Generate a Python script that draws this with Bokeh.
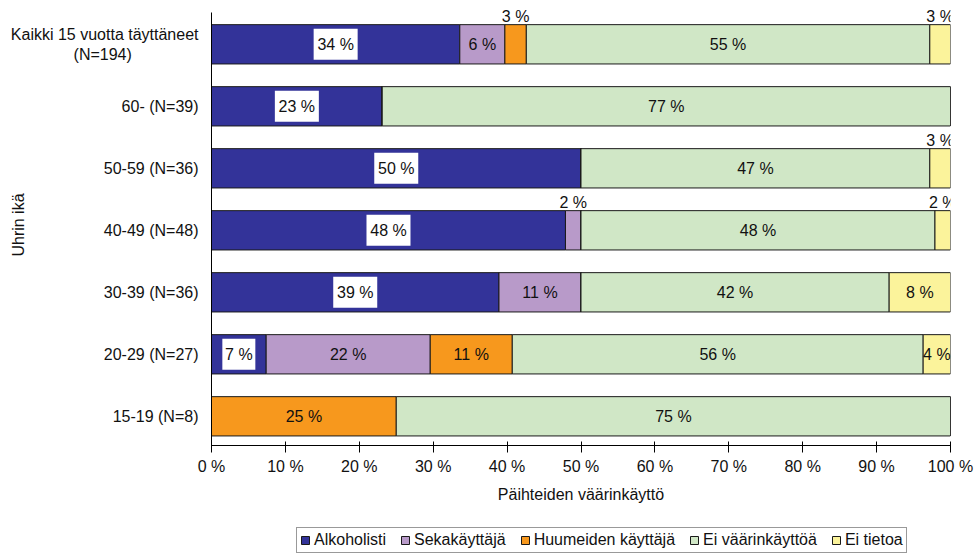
from bokeh.plotting import figure
from bokeh.layouts import column
from bokeh.models import (ColumnDataSource, Range1d, LabelSet, Legend, LegendItem,
                          FixedTicker)
from bokeh.core.properties import value
from bokeh.embed import file_html
from bokeh.resources import INLINE

# ---- data (percent of victims) ----
groups = ["Kaikki 15 vuotta täyttäneet\n(N=194)", "60- (N=39)", "50-59 (N=36)",
          "40-49 (N=48)", "30-39 (N=36)", "20-29 (N=27)", "15-19 (N=8)"]
series_names = ["Alkoholisti", "Sekakäyttäjä", "Huumeiden käyttäjä",
                "Ei väärinkäyttöä", "Ei tietoa"]
alkoholisti = [33.6, 23.1, 50.0, 47.9, 38.9, 7.4, 0.0]
sekakayttaja = [6.1, 0.0, 0.0, 2.1, 11.1, 22.2, 0.0]
huumeiden_kayttaja = [2.9, 0.0, 0.0, 0.0, 0.0, 11.1, 25.0]
ei_vaarinkayttoa = [54.6, 76.9, 47.2, 47.9, 41.7, 55.6, 75.0]
ei_tietoa = [2.8, 0.0, 2.8, 2.1, 8.3, 3.7, 0.0]
x_ticks = [0, 10, 20, 30, 40, 50, 60, 70, 80, 90, 100]
x_tick_labels = ["0 %", "10 %", "20 %", "30 %", "40 %", "50 %", "60 %", "70 %",
                 "80 %", "90 %", "100 %"]

colors = ["#333399", "#b89ac9", "#f7981d", "#d0e7c6", "#fbf39b"]
FONT = "Liberation Sans"
FS = "16px"
TXT = "#111111"

n = len(groups)
ypos = [n - 1 - j for j in range(n)]          # first group at the top

keys = ["alk", "seka", "huume", "ei", "tieto"]
values = [alkoholisti, sekakayttaja, huumeiden_kayttaja, ei_vaarinkayttoa, ei_tietoa]
src = ColumnDataSource(dict(y=ypos, **{k: v for k, v in zip(keys, values)}))

p = figure(width=976, height=515,
           y_range=Range1d(-0.471, n - 1 + 0.642),
           x_range=Range1d(0, 100),
           output_backend="svg", toolbar_location=None,
           min_border_left=211, min_border_right=26,
           min_border_top=4, min_border_bottom=70)

renderers = p.hbar_stack(keys, y="y", height=0.634, source=src,
                         fill_color=colors, line_color="#1a1a1a", line_width=1)

# ---- value labels ----
box = dict(x=[], y=[], w=[], t=[])
inside = dict(x=[], y=[], t=[])
above = dict(x=[], y=[], t=[])
for j in range(n):
    cum = 0.0
    for i, vals in enumerate(values):
        v = vals[j]
        if v > 0:
            c = cum + v / 2.0
            t = f"{v:.0f} %"
            if i == 0:
                box["x"].append(c); box["y"].append(ypos[j]); box["t"].append(t)
                box["w"].append(11 * len(t))
            elif v >= 3.5:
                inside["x"].append(c); inside["y"].append(ypos[j]); inside["t"].append(t)
            else:
                above["x"].append(c); above["y"].append(ypos[j]); above["t"].append(t)
        cum += v

box_src = ColumnDataSource(box)
p.rect(x="x", y="y", width="w", height=31, width_units="screen", height_units="screen",
       fill_color="white", line_color=None, source=box_src)

lab_kw = dict(text_font=value(FONT), text_font_size=value(FS), text_color=TXT,
              text_align="center")
p.add_layout(LabelSet(x="x", y="y", text="t", source=box_src, text_baseline="middle", **lab_kw))
p.add_layout(LabelSet(x="x", y="y", text="t", source=ColumnDataSource(inside),
                      text_baseline="middle", **lab_kw))
p.add_layout(LabelSet(x="x", y="y", text="t", source=ColumnDataSource(above),
                      text_baseline="alphabetic", y_offset=22.5, **lab_kw))

# ---- axes ----
p.xgrid.grid_line_color = None
p.ygrid.grid_line_color = None
p.outline_line_color = None

xa = p.xaxis[0]
xa.ticker = FixedTicker(ticks=x_ticks)
xa.major_label_overrides = {t: l for t, l in zip(x_ticks, x_tick_labels)}
xa.minor_tick_line_color = None
xa.major_tick_in = 4
xa.major_tick_out = 7
xa.major_tick_line_color = "black"
xa.axis_line_color = "black"
xa.major_label_standoff = 5
xa.major_label_text_font = FONT
xa.major_label_text_font_size = FS
xa.major_label_text_color = TXT
xa.axis_label = "Päihteiden väärinkäyttö"
xa.axis_label_text_font = FONT
xa.axis_label_text_font_size = FS
xa.axis_label_text_font_style = "normal"
xa.axis_label_text_color = TXT
xa.axis_label_standoff = 8


def centered(label):
    # pad shorter lines so a right-aligned multi-line label looks centred
    lines = label.split("\n")
    if len(lines) == 1:
        return label
    longest = max(len(s) for s in lines)
    out = []
    for s in lines:
        pad = int(round((longest - len(s)) * 0.75))
        out.append(s + "\u00a0" * pad)
    return "\n".join(out)


ya = p.yaxis[0]
ya.ticker = FixedTicker(ticks=ypos)
ya.major_label_overrides = {y: centered(g) for y, g in zip(ypos, groups)}
ya.bounds = (-0.471, n - 1 + 0.506)
ya.major_tick_line_color = None
ya.minor_tick_line_color = None
ya.major_tick_in = 0
ya.major_tick_out = 0
ya.axis_line_color = "black"
ya.major_label_standoff = 13
ya.major_label_text_font = FONT
ya.major_label_text_font_size = FS
ya.major_label_text_color = TXT
ya.axis_label = "Uhrin ikä"
ya.axis_label_text_font = FONT
ya.axis_label_text_font_size = FS
ya.axis_label_text_font_style = "normal"
ya.axis_label_text_color = TXT
ya.axis_label_standoff = -19

# ---- legend strip (separate figure so nothing clips it) ----
# the legend figure shows the same series, but its y range lies outside the data,
# so only the legend itself is visible
lg = figure(width=976, height=42, x_range=Range1d(0, 100), y_range=Range1d(100, 101),
            x_axis_type=None, y_axis_type=None, output_backend="svg",
            toolbar_location=None, min_border=0)
lg.outline_line_color = None
lg.xgrid.grid_line_color = None
lg.ygrid.grid_line_color = None
proxies = [lg.hbar(y="y", right=k, height=0.634, source=src, fill_color=c,
                   line_color="#1a1a1a") for k, c in zip(keys, colors)]
legend = Legend(items=[LegendItem(label=s, renderers=[r]) for s, r in zip(series_names, proxies)],
                location=(85, 4), orientation="horizontal",
                glyph_width=10, glyph_height=10, label_standoff=4, spacing=14,
                padding=3, margin=0, label_height=17,
                border_line_color="#333333", border_line_width=1,
                label_text_font=FONT, label_text_font_size=FS, label_text_color=TXT)
lg.add_layout(legend)

layout = column(p, lg, spacing=0)

with open("out.html", "w", encoding="utf-8") as f:
    f.write(file_html(layout, INLINE))
